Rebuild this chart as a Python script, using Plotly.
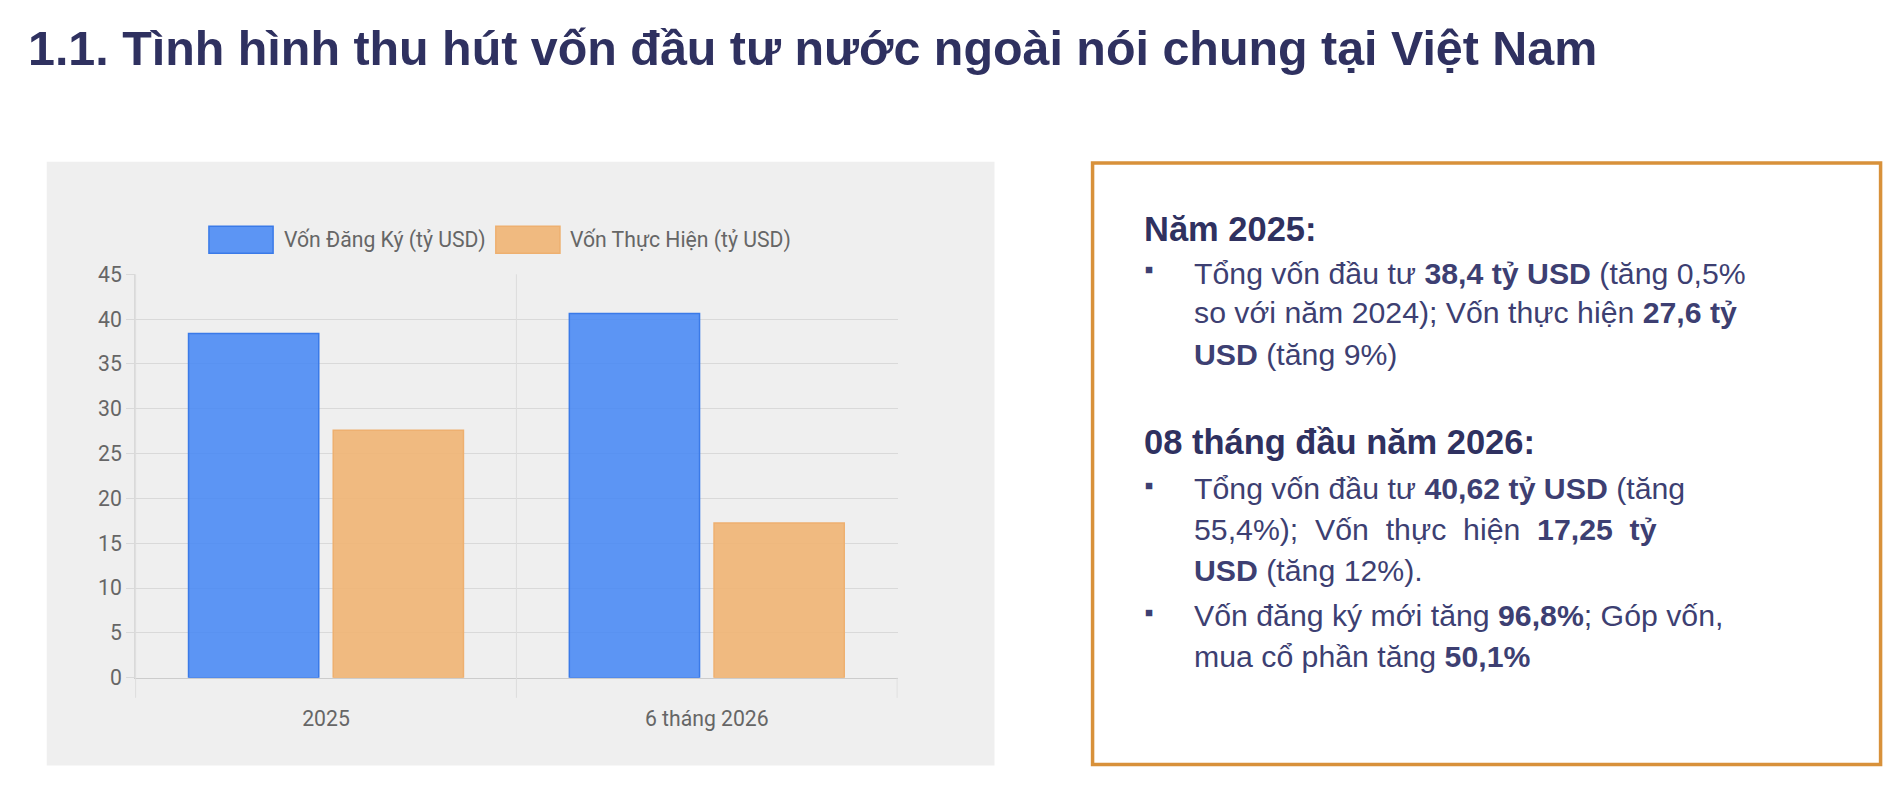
import plotly.graph_objects as go

W, H = 1898, 800
S = 1898 / 1568  # reference drawn at 1568 px wide

categories = ["2025", "6 tháng 2026"]
series_names = ["Vốn Đăng Ký (tỷ USD)", "Vốn Thực Hiện (tỷ USD)"]
von_dang_ky = [38.4, 40.62]
von_thuc_hien = [27.6, 17.25]
y_ticks = [0, 5, 10, 15, 20, 25, 30, 35, 40, 45]

title = "1.1. Tình hình thu hút vốn đầu tư nước ngoài nói chung tại Việt Nam"
heading_1 = "Năm 2025:"
heading_2 = "08 tháng đầu năm 2026:"
# (text, ref y, has bullet)
box_lines = [
    ("Tổng vốn đầu tư <b>38,4 tỷ USD</b> (tăng 0,5%", 215, True),
    ("so với năm 2024); Vốn thực hiện <b>27,6 tỷ</b>", 249, False),
    ("<b>USD</b> (tăng 9%)", 284, False),
    ("Tổng vốn đầu tư <b>40,62 tỷ USD</b> (tăng", 399, True),
    ("55,4%);  Vốn  thực  hiện  <b>17,25  tỷ</b>", 434, False),
    ("<b>USD</b> (tăng 12%).", 469, False),
    ("Vốn đăng ký mới tăng <b>96,8%</b>; Góp vốn,", 507, True),
    ("mua cổ phần tăng <b>50,1%</b>", 542, False),
]

def px(x):
    return x * S / W

def py(y):
    return 1 - y * S / H

chart_font = "Liberation Sans Narrow, Roboto, Arial, sans-serif"
text_font = "Liberation Sans, Arial, sans-serif"
navy = "#2f3160"
text_col = "#3d3f72"
blue_fill, blue_line = "rgba(66,133,244,0.85)", "#3a7ae8"
orange_fill, orange_line = "rgba(240,180,115,0.9)", "#eeb070"

fig = go.Figure()
fig.add_trace(go.Bar(x=categories, y=von_dang_ky, name=series_names[0],
                     marker=dict(color=blue_fill, line=dict(color=blue_line, width=1.5))))
fig.add_trace(go.Bar(x=categories, y=von_thuc_hien, name=series_names[1],
                     marker=dict(color=orange_fill, line=dict(color=orange_line, width=1.5))))

shapes = [
    dict(type="rect", xref="paper", yref="paper", x0=px(32), x1=px(815),
         y0=py(635), y1=py(120), fillcolor="#efefef", line=dict(width=0), layer="below"),
    dict(type="rect", xref="paper", yref="paper", x0=px(896), x1=px(1547),
         y0=py(634), y1=py(121), fillcolor="white",
         line=dict(color="#d8913a", width=3.5)),
    dict(type="line", xref="x", yref="y domain", x0=0.5, x1=0.5, y0=-0.05, y1=1,
         line=dict(color="#dcdcdc", width=1)),
    dict(type="line", xref="x", yref="y domain", x0=-0.5, x1=-0.5, y0=-0.05, y1=1,
         line=dict(color="#dcdcdc", width=1)),
    dict(type="line", xref="x", yref="y domain", x0=1.5, x1=1.5, y0=-0.05, y1=0,
         line=dict(color="#dcdcdc", width=1)),
    # legend swatches
    dict(type="rect", xref="paper", yref="paper", x0=px(166), x1=px(219),
         y0=py(198), y1=py(175), fillcolor=blue_fill, line=dict(color=blue_line, width=1.5)),
    dict(type="rect", xref="paper", yref="paper", x0=px(403), x1=px(456),
         y0=py(198), y1=py(175), fillcolor=orange_fill, line=dict(color=orange_line, width=1.5)),
]

ann = [dict(text="<b>" + title + "</b>", xref="paper", yref="paper", x=px(15), y=py(23),
            xanchor="left", yanchor="middle", showarrow=False,
            font=dict(family=text_font, size=40 * S, color=navy)),
       dict(text="<b>" + heading_1 + "</b>", xref="paper", yref="paper", x=px(937), y=py(177),
            xanchor="left", yanchor="middle", showarrow=False,
            font=dict(family=text_font, size=28.5 * S, color=navy)),
       dict(text="<b>" + heading_2 + "</b>", xref="paper", yref="paper", x=px(937), y=py(359),
            xanchor="left", yanchor="middle", showarrow=False,
            font=dict(family=text_font, size=28.5 * S, color=navy)),
       dict(text=series_names[0], xref="paper", yref="paper", x=px(226), y=py(187),
            xanchor="left", yanchor="middle", showarrow=False,
            font=dict(family=chart_font, size=17.5 * S, color="#666666")),
       dict(text=series_names[1], xref="paper", yref="paper", x=px(463), y=py(187),
            xanchor="left", yanchor="middle", showarrow=False,
            font=dict(family=chart_font, size=17.5 * S, color="#666666"))]
for txt, y, bullet in box_lines:
    ann.append(dict(text=txt, xref="paper", yref="paper", x=px(978), y=py(y),
                    xanchor="left", yanchor="middle", showarrow=False,
                    font=dict(family=text_font, size=25 * S, color=text_col)))
    if bullet:
        ann.append(dict(text="■", xref="paper", yref="paper", x=px(938), y=py(y - 3),
                        xanchor="left", yanchor="middle", showarrow=False,
                        font=dict(family=text_font, size=11 * S, color=text_col)))

fig.update_layout(
    width=W, height=H, paper_bgcolor="white", plot_bgcolor="rgba(0,0,0,0)",
    margin=dict(l=0, r=0, t=0, b=0), shapes=shapes, annotations=ann,
    barmode="group", bargap=0.24, bargroupgap=0.1, showlegend=False,
    font=dict(family=chart_font, size=17 * S, color="#666666"),
    xaxis=dict(domain=[px(105), px(735)], showgrid=False, ticks="", ticklabelstandoff=22,
               showline=True, linecolor="#cccccc", zeroline=False,
               tickfont=dict(size=17.5 * S, color="#666666")),
    yaxis=dict(domain=[py(560), py(216)], range=[0, 45], tickvals=y_ticks,
               gridcolor="#d9d9d9", showline=True, linecolor="#d9d9d9", zeroline=False,
               ticks="outside", ticklen=8, tickcolor="#d9d9d9",
               tickfont=dict(size=17.5 * S, color="#666666")),
)

fig.write_html("out.html")
